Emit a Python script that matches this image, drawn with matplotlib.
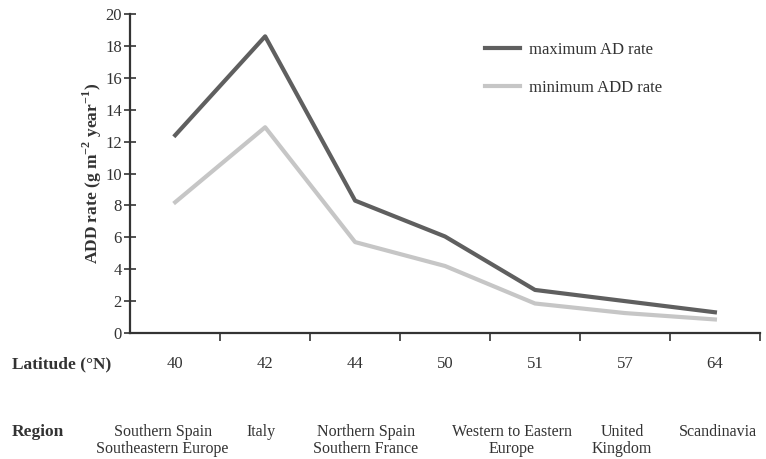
import matplotlib.pyplot as plt
from matplotlib.transforms import blended_transform_factory
import numpy as np

plt.rcParams['font.family'] = ['Liberation Serif', 'DejaVu Serif']

# данные
latitude = ["40", "42", "44", "50", "51", "57", "64"]
regions = ["Southern Spain\nSoutheastern Europe", "Italy", "Northern Spain\nSouthern France",
           "Western to Eastern\nEurope", "United\nKingdom", "Scandinavia"]
# положение подписей регионов (в единицах категорий)
region_pos = [-0.14, 0.95, 2.12, 3.74, 4.97, 6.03]
max_rate = [12.4, 18.6, 8.3, 6.05, 2.7, 2.0, 1.3]
min_rate = [8.2, 12.9, 5.7, 4.2, 1.85, 1.25, 0.85]

x = np.arange(len(latitude))

fig = plt.figure(figsize=(7.66, 4.59), dpi=100)
ax = fig.add_axes([0.170, 0.2745, 0.822, 0.695])

ax.plot(x, max_rate, color="#5f5f5f", lw=3.0, label="maximum AD rate")
ax.plot(x, min_rate, color="#c6c6c6", lw=3.0, label="minimum ADD rate")

ax.set_xlim(-0.5, 6.5)
ax.set_ylim(0, 20)
ax.set_yticks(np.arange(0, 21, 2))
ax.set_xticks(np.arange(0.5, 7, 1))
ax.set_xticklabels([])
ax.tick_params(axis="x", direction="out", length=6, width=1.2, color="#333333")
ax.tick_params(axis="y", direction="inout", length=8, width=1.2, color="#333333",
               labelsize=12, labelcolor="#333333", pad=2)
for s in ["top", "right"]:
    ax.spines[s].set_visible(False)
for s in ["left", "bottom"]:
    ax.spines[s].set_linewidth(1.6)
    ax.spines[s].set_color("#333333")

ax.set_ylabel("ADD rate (g m$^{\\mathregular{-2}}$ year$^{\\mathregular{-1}}$)", fontsize=12.5,
              fontweight="bold", color="#333333", labelpad=1)

# подписи под осью
tr = blended_transform_factory(ax.transData, fig.transFigure)
for xi, lab in zip(x, latitude):
    ax.text(xi, 1 - 364 / 459, lab, transform=tr, ha="center", va="center",
            fontsize=12, color="#333333")
for xi, lab in zip(region_pos, regions):
    ax.text(xi, 1 - 424 / 459, lab, transform=tr, ha="center", va="top",
            fontsize=11.5, color="#333333", linespacing=1.1)
fig.text(12 / 766, 1 - 364 / 459, "Latitude (\u00b0N)", ha="left", va="center",
         fontsize=12.5, fontweight="bold", color="#333333")
fig.text(12 / 766, 1 - 432 / 459, "Region", ha="left", va="center",
         fontsize=12.5, fontweight="bold", color="#333333")

leg = ax.legend(loc="upper left", bbox_to_anchor=(0.539, 0.96), frameon=False,
                fontsize=12, handlelength=2.1, handletextpad=0.55, labelspacing=1.35,
                labelcolor="#333333")

fig.savefig("out.png", dpi=100)
